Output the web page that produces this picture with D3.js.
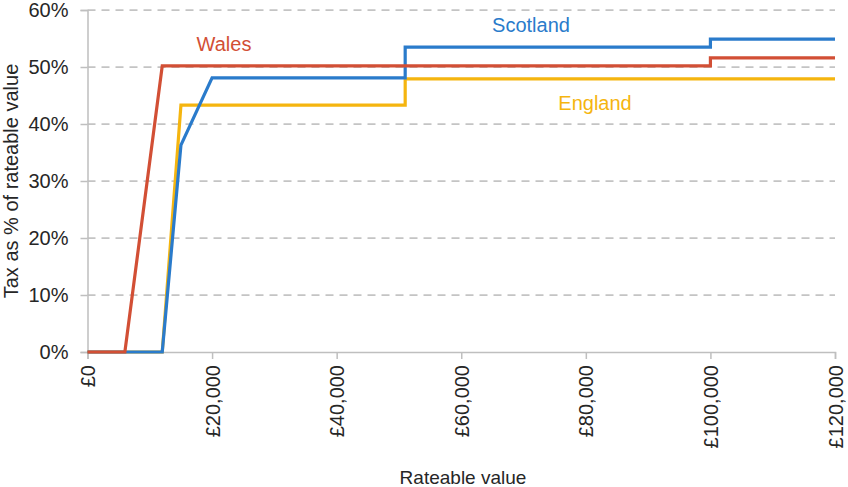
<!DOCTYPE html>
<html>
<head>
<meta charset="utf-8">
<script src="https://cdn.jsdelivr.net/npm/d3@7"></script>
<style>
  body { margin: 0; background: #fff; }
  text { font-family: "Liberation Sans", Arial, sans-serif; fill: #262626; }
</style>
</head>
<body>
<svg id="chart" width="848" height="487"></svg>
<script>
// rateable value (£) against tax as % of rateable value
const walesX = [0, 6000, 12000, 100000, 100000, 120000]
const walesY = [0, 0, 50.2, 50.2, 51.6, 51.6]
const scotlandX = [0, 12000, 15000, 20000, 51000, 51000, 100000, 100000, 120000]
const scotlandY = [0, 0, 36.3, 48.1, 48.1, 53.5, 53.5, 54.9, 54.9]
const englandX = [0, 12000, 15000, 51000, 51000, 120000]
const englandY = [0, 0, 43.3, 43.3, 47.9, 47.9]

const xTicks = [0, 20000, 40000, 60000, 80000, 100000, 120000]
const yTicks = [0, 10, 20, 30, 40, 50, 60]

const series = [
  { name: 'England', xs: englandX, ys: englandY, color: '#F5B50F', lx: 595, ly: 110 },
  { name: 'Scotland', xs: scotlandX, ys: scotlandY, color: '#2A7BCB', lx: 531, ly: 32 },
  { name: 'Wales', xs: walesX, ys: walesY, color: '#D24F35', lx: 224, ly: 51 }
]

const svg = d3.select('#chart')
const x = d3.scaleLinear().domain([0, 120000]).range([87.5, 835])
const y = d3.scaleLinear().domain([0, 60]).range([352, 10])

// dashed gridlines
svg.append('g')
  .selectAll('line')
  .data(yTicks.filter(d => d > 0))
  .join('line')
  .attr('x1', x(0)).attr('x2', x(120000))
  .attr('y1', d => y(d)).attr('y2', d => y(d))
  .attr('stroke', '#C4C4C4')
  .attr('stroke-width', 1.75)
  .attr('stroke-dasharray', '8,6')

// y axis
const yAxis = svg.append('g')
  .attr('transform', 'translate(' + x(0) + ',0)')
  .call(d3.axisLeft(y).tickValues(yTicks).tickFormat(d => d + '%').tickSize(7).tickPadding(12))
yAxis.select('.domain').attr('stroke', '#BFBFBF').attr('stroke-width', 1.5)
yAxis.selectAll('.tick line').attr('stroke', '#BFBFBF').attr('stroke-width', 1.5)
yAxis.selectAll('text').style('font-size', '20px').attr('fill', '#262626')

// x axis
const xAxis = svg.append('g')
  .attr('transform', 'translate(0,' + y(0) + ')')
  .call(d3.axisBottom(x).tickValues(xTicks).tickFormat(d => '£' + d3.format(',')(d)).tickSize(7))
xAxis.select('.domain').attr('stroke', '#BFBFBF').attr('stroke-width', 1.5)
xAxis.selectAll('.tick line').attr('stroke', '#BFBFBF').attr('stroke-width', 1.5)
xAxis.selectAll('text')
  .style('font-size', '20px')
  .attr('fill', '#262626')
  .attr('text-anchor', 'end')
  .attr('transform', 'rotate(-90)')
  .attr('x', -13)
  .attr('y', 0)
  .attr('dy', '0.35em')

// lines
const line = d3.line().x(d => x(d[0])).y(d => y(d[1]))
series.forEach(function(s) {
  const pts = s.xs.map((v, i) => [v, s.ys[i]])
  svg.append('path')
    .datum(pts)
    .attr('d', line)
    .attr('fill', 'none')
    .attr('stroke', s.color)
    .attr('stroke-width', 3.2)
    .attr('stroke-linejoin', 'miter')

  svg.append('text')
    .attr('x', s.lx)
    .attr('y', s.ly)
    .attr('text-anchor', 'middle')
    .style('font-size', '20px')
    .style('fill', s.color)
    .text(s.name)
})

// axis titles
svg.append('text')
  .attr('transform', 'translate(18,181) rotate(-90)')
  .attr('text-anchor', 'middle')
  .style('font-size', '20px')
  .text('Tax as % of rateable value')

svg.append('text')
  .attr('x', 463)
  .attr('y', 484)
  .attr('text-anchor', 'middle')
  .style('font-size', '19px')
  .text('Rateable value')
</script>
</body>
</html>
